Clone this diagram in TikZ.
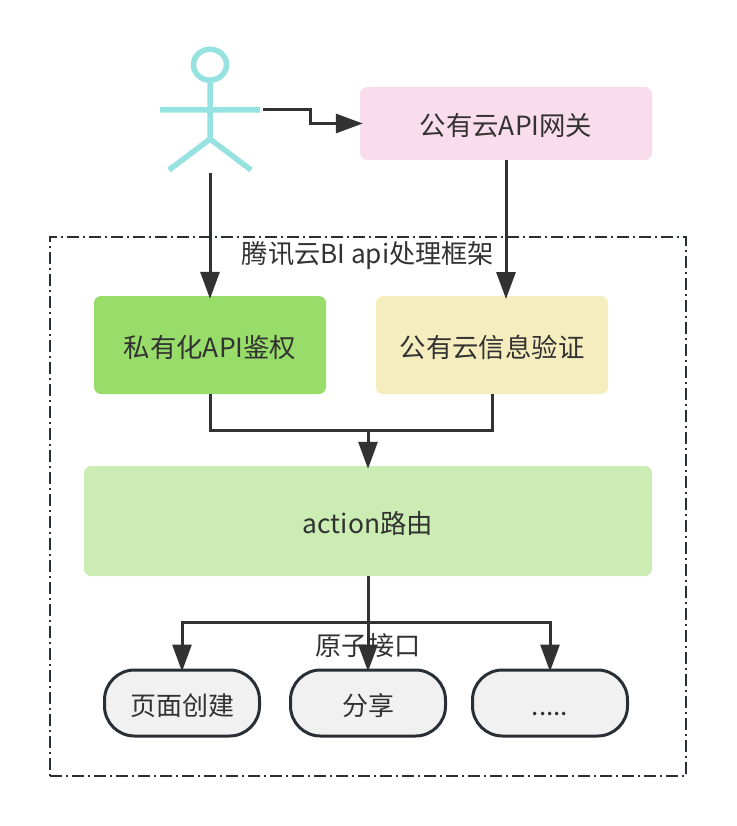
\documentclass[tikz,border=0pt]{standalone}
\usepackage{fontspec}
\setmainfont{Noto Sans CJK SC}
\usetikzlibrary{arrows.meta}
\definecolor{ink}{HTML}{323232}
\definecolor{actorc}{HTML}{96E2E0}
\definecolor{edgec}{HTML}{282F36}
\definecolor{pinkb}{HTML}{F9DDEC}
\definecolor{greenb}{HTML}{98DC6A}
\definecolor{yellowb}{HTML}{F5EDBE}
\definecolor{lightg}{HTML}{CBEDB3}
\definecolor{termf}{HTML}{F1F1F1}
\tikzset{
 x=1pt,y=-1pt,
 stxt/.style={font=\fontsize{26.2}{30}\selectfont,text=ink,inner sep=0pt},
 bx/.style={rounded corners=7pt,inner sep=0pt,font=\fontsize{26.4}{30}\selectfont,text=ink,text height=24pt,text depth=0pt},
 term/.style={draw=edgec,line width=3pt,fill=termf,rounded corners=30pt,minimum width=155pt,minimum height=66pt,inner sep=0pt,font=\fontsize{26}{30}\selectfont,text=ink,text height=24pt,text depth=0pt},
 conn/.style={draw=ink,line width=3pt,-{Triangle[length=27pt,width=19pt,fill=ink]},shorten >=-3pt},
 plainconn/.style={draw=ink,line width=3pt},
 actor/.style={draw=actorc,line width=5.5pt},
}
\begin{document}
\begin{tikzpicture}
\useasboundingbox[fill=white] (0,0) rectangle (736,826);
\node[draw=edgec,line width=1.6pt,dash pattern=on 12pt off 4pt on 2pt off 4pt,minimum width=636pt,minimum height=539pt,inner sep=0pt] (frame) at (368,506.5) {};
\node[stxt] (frametitle) at (368,255.5) {腾讯云BI api处理框架};
% actor
\coordinate (hip) at (210,139);
\coordinate (neck) at (210,83);
\coordinate (armL) at (160,110);
\coordinate (armR) at (260,110);
\coordinate (legL) at (169,170);
\coordinate (legR) at (251,170);
\coordinate (actorOut) at (263,110);
\coordinate (actorDown) at (210,173);
\coordinate (headc) at (210,64.7);
\draw[actor] (headc) ellipse[x radius=16.5pt,y radius=15.5pt];
\draw[actor] (neck) -- (hip) (armL) -- (armR) (legL) -- (hip) -- (legR);
% boxes
\node[bx,fill=pinkb,minimum width=292pt,minimum height=73pt] (gateway) at (506,123.5) {公有云API网关};
\node[bx,fill=greenb,minimum width=232pt,minimum height=98pt] (private) at (210,345) {私有化API鉴权};
\node[bx,fill=yellowb,minimum width=232pt,minimum height=98pt] (verify) at (492,345) {公有云信息验证};
\node[bx,fill=lightg,minimum width=568pt,minimum height=110pt] (action) at (368,521) {action路由};
\node[term] (page) at (182,703) {页面创建};
\node[term] (share) at (368,703) {分享};
\node[term] (more) at (550,703) {.....};
\node[stxt] (atomic) at (368,645.5) {原子接口};
% connectors
\draw[conn] (actorOut) -- (310,110) -- (310,123.5) -- (gateway.west);
\draw[conn] (actorDown) -- (private.north);
\draw[conn] (gateway.south) -- (506,296);
\draw[plainconn] (private.south) |- (368,430);
\draw[plainconn] (verify.south) |- (368,430);
\draw[conn] (368,430) -- (action.north);
\draw[conn] (action.south) -- (share.north);
\draw[conn] (368,622) -| (page.north);
\draw[conn] (368,622) -| (more.north);
\end{tikzpicture}
\end{document}
